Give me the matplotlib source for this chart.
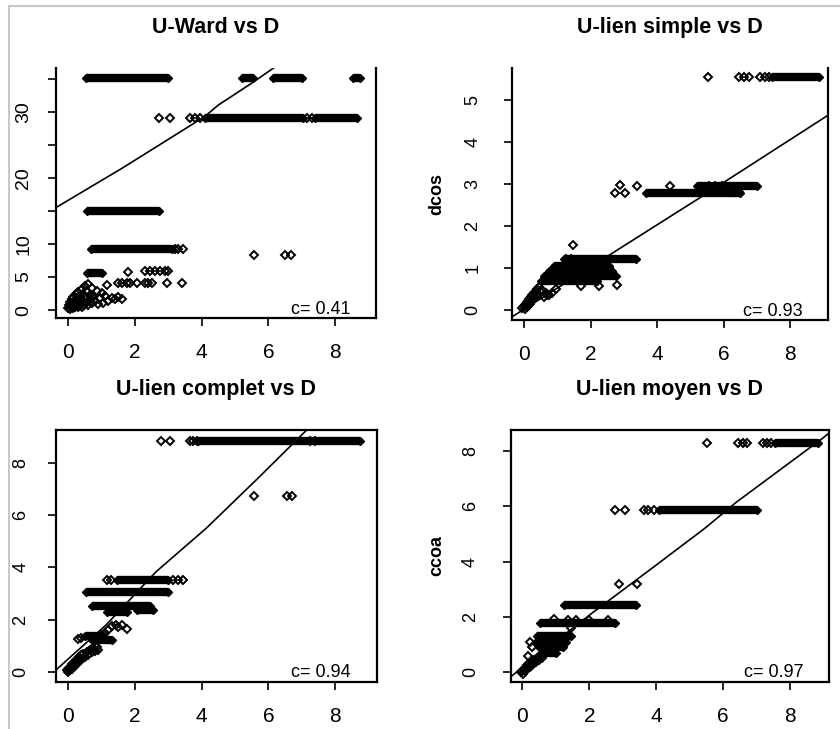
import matplotlib
matplotlib.use("Agg")
import matplotlib.pyplot as plt
from matplotlib.lines import Line2D

plt.rcParams['font.family'] = ['Liberation Sans', 'DejaVu Sans']

# ---- data ----
# bands: (y level, first x, last x) of runs of overlapping points
ward_bands = [(35.1, 0.52, 2.98), (35.1, 5.2, 5.55), (35.1, 6.15, 7.0), (35.1, 8.55, 8.75),
              (29.1, 4.1, 7.05), (29.1, 7.4, 8.65), (15.0, 0.55, 2.73), (9.2, 0.69, 3.1),
              (5.55, 0.55, 1.0)]
ward_pts = [(2.73, 29.1), (3.05, 29.1), (3.65, 29.1), (3.8, 29.1), (3.95, 29.1), (7.15, 29.1), (7.3, 29.1),
            (3.2, 9.2), (3.3, 9.2), (3.43, 9.2), (5.57, 8.3), (6.5, 8.3), (6.68, 8.3),
            (1.8, 5.8), (2.3, 5.95), (2.45, 5.95), (2.6, 5.95), (2.75, 5.95), (2.9, 5.95), (3.0, 5.95),
            (1.5, 4.1), (1.6, 4.1), (1.75, 4.1), (1.85, 4.1), (2.05, 4.1), (2.3, 4.1), (2.4, 4.1),
            (2.5, 4.1), (2.95, 4.1), (3.4, 4.1), (1.15, 3.8),
            (0.0, 0.3), (0.02, 0.8), (0.05, 0.2), (0.05, 1.2), (0.08, 0.6), (0.1, 0.4), (0.1, 1.6),
            (0.12, 1.0), (0.15, 0.3), (0.15, 2.0), (0.18, 0.7), (0.2, 0.5), (0.2, 1.4), (0.22, 2.4),
            (0.25, 0.9), (0.25, 1.8), (0.28, 0.4), (0.3, 1.2), (0.3, 2.8), (0.33, 0.6), (0.35, 2.0),
            (0.38, 1.0), (0.4, 0.5), (0.4, 3.2), (0.42, 1.5), (0.45, 2.4), (0.48, 0.8), (0.5, 1.9),
            (0.5, 3.6), (0.55, 1.2), (0.55, 2.8), (0.6, 0.7), (0.6, 3.9), (0.65, 1.6), (0.65, 2.3),
            (0.7, 1.0), (0.7, 3.4), (0.75, 2.0), (0.8, 1.3), (0.85, 2.9), (0.9, 0.9), (0.95, 1.8),
            (1.0, 2.6), (1.05, 1.1), (1.1, 2.2), (1.2, 1.4), (1.3, 1.8), (1.4, 1.6), (1.5, 2.0),
            (1.6, 1.7)]
ward_fit_x = [-0.37, 1.63, 3.63, 4.1, 4.5, 5.5, 6.3]
ward_fit_y = [15.5, 21.5, 27.8, 29.3, 31.0, 34.3, 37.1]
ward_c = 0.41

simple_bands = [(5.54, 7.45, 8.85), (2.79, 3.65, 6.5), (2.96, 5.2, 7.0), (1.22, 1.2, 3.35),
                (1.05, 0.9, 2.55), (0.92, 0.75, 2.65), (0.8, 0.6, 2.75), (0.68, 0.5, 2.2)]
simple_pts = [(5.53, 5.54), (6.45, 5.54), (6.6, 5.54), (6.75, 5.54), (7.1, 5.54), (7.25, 5.54), (7.35, 5.54),
              (2.73, 2.79), (2.88, 2.98), (3.03, 2.79), (3.38, 2.95), (4.4, 2.95), (5.55, 2.95),
              (5.75, 2.95), (5.95, 2.95), (6.3, 2.8), (6.45, 2.8),
              (1.48, 1.55), (1.25, 1.22), (1.4, 1.22), (1.7, 0.57), (2.25, 0.57), (2.8, 0.6),
              (2.55, 1.0), (1.0, 1.0), (0.75, 0.35), (0.95, 0.5),
              (-0.05, 0.05), (0.0, 0.1), (0.03, 0.02), (0.05, 0.15), (0.08, 0.08), (0.1, 0.2),
              (0.12, 0.12), (0.15, 0.25), (0.18, 0.15), (0.2, 0.3), (0.22, 0.2), (0.25, 0.35),
              (0.28, 0.25), (0.3, 0.4), (0.32, 0.3), (0.35, 0.45), (0.38, 0.32), (0.4, 0.5),
              (0.42, 0.38), (0.45, 0.55), (0.5, 0.42), (0.55, 0.48), (0.6, 0.3), (0.65, 0.4),
              (0.7, 0.35), (0.85, 0.4)]
simple_fit_x = [-0.37, 2.73, 5.34, 9.2]
simple_fit_y = [-0.17, 1.39, 2.70, 4.67]
simple_c = 0.93

complet_bands = [(8.85, 3.9, 8.75), (3.5, 1.45, 3.0), (3.07, 0.52, 2.98), (2.52, 0.7, 2.45),
                 (2.3, 1.15, 1.75), (2.35, 2.05, 2.55), (1.38, 0.5, 1.05), (1.2, 0.7, 1.3)]
complet_pts = [(2.78, 8.85), (3.05, 8.85), (3.65, 8.85), (3.75, 8.85), (3.85, 8.85), (7.25, 8.85), (7.4, 8.85),
               (5.57, 6.75), (6.55, 6.75), (6.7, 6.75),
               (1.15, 3.5), (1.28, 3.5), (3.15, 3.5), (3.3, 3.5), (3.45, 3.5),
               (1.2, 1.6), (1.3, 1.75), (1.42, 1.8), (1.5, 1.7), (1.6, 1.78), (1.75, 1.65),
               (1.1, 1.5), (1.0, 1.4), (0.3, 1.25), (0.38, 1.28),
               (-0.05, 0.05), (0.0, 0.0), (0.03, 0.15), (0.05, 0.08), (0.08, 0.2), (0.1, 0.1),
               (0.12, 0.3), (0.15, 0.2), (0.18, 0.35), (0.2, 0.25), (0.22, 0.45), (0.25, 0.3),
               (0.28, 0.5), (0.3, 0.4), (0.33, 0.55), (0.35, 0.45), (0.38, 0.65), (0.4, 0.5),
               (0.45, 0.7), (0.5, 0.55), (0.55, 0.75), (0.6, 0.65), (0.65, 0.85), (0.7, 0.75),
               (0.75, 0.9), (0.8, 0.8), (0.85, 0.95), (0.9, 0.85)]
complet_fit_x = [-0.37, 1.13, 2.63, 4.13, 5.63, 7.15, 7.3]
complet_fit_y = [0.07, 1.79, 3.83, 5.49, 7.34, 9.26, 9.45]
complet_c = 0.94

moyen_bands = [(8.3, 7.55, 8.85), (5.86, 4.1, 7.03), (2.44, 1.25, 3.4), (1.79, 0.52, 2.78),
               (1.3, 0.45, 1.45), (1.1, 0.4, 1.3), (0.9, 0.5, 1.2), (0.7, 0.55, 1.0)]
moyen_pts = [(5.52, 8.3), (6.45, 8.3), (6.6, 8.3), (6.72, 8.3), (7.2, 8.3), (7.32, 8.3), (7.45, 8.3),
             (2.78, 5.86), (3.07, 5.86), (3.65, 5.86), (3.75, 5.86), (3.95, 5.86),
             (2.88, 3.2), (3.42, 3.2),
             (0.95, 1.92), (1.35, 1.9), (1.6, 1.9), (2.0, 1.9), (2.55, 1.9),
             (1.45, 1.6), (0.22, 1.1), (0.18, 0.6), (0.3, 0.9),
             (-0.05, 0.0), (0.0, 0.05), (0.03, -0.05), (0.05, 0.12), (0.08, 0.05), (0.1, 0.18),
             (0.12, 0.1), (0.15, 0.25), (0.18, 0.15), (0.2, 0.3), (0.22, 0.2), (0.25, 0.35),
             (0.28, 0.25), (0.3, 0.4), (0.33, 0.3), (0.35, 0.45), (0.4, 0.38), (0.45, 0.5),
             (0.5, 0.45), (0.55, 0.6), (0.6, 0.5)]
moyen_fit_x = [-0.35, 2.05, 3.95, 5.45, 6.4, 9.0, 9.2]
moyen_fit_y = [-0.16, 2.11, 3.83, 5.2, 6.15, 8.48, 8.68]
moyen_c = 0.97

x_ticks = [0, 2, 4, 6, 8]


def draw_panel(ax, bands, pts, fit_x, fit_y, c):
    for y, x0, x1 in bands:
        ax.plot([x0, x1], [y, y], color='k', lw=6.0, solid_capstyle='butt', zorder=2)
        ax.plot([x0, x1], [y, y], ls='none', marker='D', ms=4.4, mfc='k', mec='k', zorder=2)
    ax.plot([p[0] for p in pts], [p[1] for p in pts], ls='none', marker='D', ms=4.4,
            mfc='none', mec='k', mew=1.4, zorder=3)
    ax.plot(fit_x, fit_y, color='k', lw=1.2, zorder=4)
    ax.text(0.92, 0.035, 'c= %.2f' % c, transform=ax.transAxes, ha='right', va='center',
            fontsize=13)


W, H = 840, 729
fig = plt.figure(figsize=(8.4, 7.29), dpi=100)

# (left, top, right, bottom) in pixels
panels = [
    ((56, 68, 376, 318), 'U-Ward vs D', ward_bands, ward_pts, ward_fit_x, ward_fit_y, ward_c,
     (-0.37, 9.23), (-1.2, 36.6), list(range(0, 40, 5)), ['0', '5', '10', '', '20', '', '30', ''],
     11, 14, False),
    ((511.7, 68, 828.3, 320), 'U-lien simple vs D', simple_bands, simple_pts, simple_fit_x, simple_fit_y,
     simple_c, (-0.37, 9.14), (-0.24, 5.76), [0, 1, 2, 3, 4, 5], None, 16, 13, False),
    ((56, 430, 376.7, 681.7), 'U-lien complet vs D', complet_bands, complet_pts, complet_fit_x,
     complet_fit_y, complet_c, (-0.37, 9.25), (-0.38, 9.26), [0, 2, 4, 6, 8], None, 13, 13, True),
    ((510.7, 430, 829.3, 681.7), 'U-lien moyen vs D', moyen_bands, moyen_pts, moyen_fit_x, moyen_fit_y,
     moyen_c, (-0.35, 9.18), (-0.34, 8.76), [0, 2, 4, 6, 8], None, 17, 13, True),
]

for (l, t, r, b), title, bands, pts, fx, fy, c, xl, yl, yt, ytl, ypad, ysize, top in panels:
    ax = fig.add_axes([l / W, 1 - b / H, (r - l) / W, (b - t) / H])
    draw_panel(ax, bands, pts, fx, fy, c)
    ax.set_xlim(xl)
    ax.set_ylim(yl)
    ax.set_xticks(x_ticks)
    ax.set_xticklabels([str(v) for v in x_ticks], fontsize=15)
    ax.set_yticks(yt)
    ax.set_yticklabels(ytl if ytl else [str(v) for v in yt], rotation=90, va='center', fontsize=ysize)
    ax.tick_params(axis='x', length=6, width=1.2, pad=12)
    ax.tick_params(axis='y', length=6, width=1.2, pad=ypad)
    for s in ax.spines.values():
        s.set_linewidth(1.6)
    ax.spines['top'].set_visible(top)
    ax.set_title(title, fontsize=15.5, fontweight='bold', pad=25)

fig.text(437 / W, 1 - 194 / H, 'dcos', rotation=90, ha='center', va='center', fontsize=13,
         fontweight='bold')
fig.text(437 / W, 1 - 556 / H, 'ccoa', rotation=90, ha='center', va='center', fontsize=13,
         fontweight='bold')

# light frame of the original screenshot
fig.add_artist(Line2D([9 / W, 1], [1 - 6 / H, 1 - 6 / H], transform=fig.transFigure,
                      color='#c8c8c8', lw=1.5))
fig.add_artist(Line2D([9 / W, 9 / W], [0, 1 - 6 / H], transform=fig.transFigure,
                      color='#c8c8c8', lw=1.5))

fig.savefig('out.png', dpi=100)
